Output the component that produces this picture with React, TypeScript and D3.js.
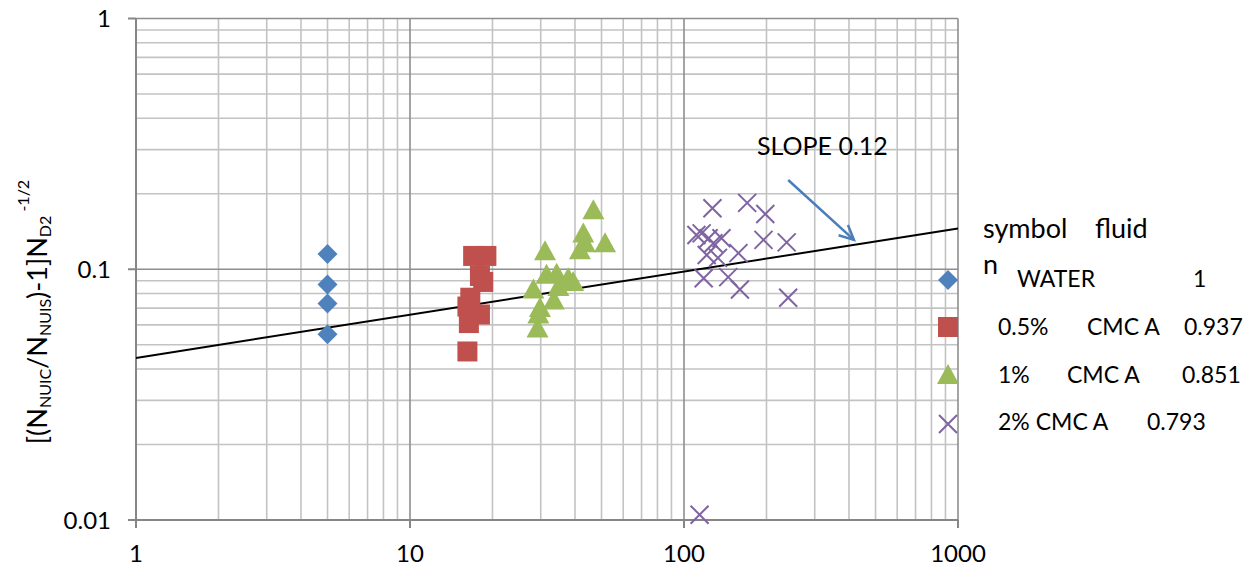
import React from 'react';
import * as d3 from 'd3';

const W = 1257;
const H = 571;
const margin = { top: 18.5, right: 299, bottom: 51, left: 136 };

// series
const waterX = [5, 5, 5, 5];
const waterY = [0.115, 0.087, 0.073, 0.055];

const cmc05X = [17, 19, 18, 18.5, 16.6, 16.2, 16.5, 18, 16.4, 16.2];
const cmc05Y = [0.113, 0.113, 0.094, 0.089, 0.077, 0.071, 0.068, 0.066, 0.061, 0.047];

const cmc1X = [46.7, 42.9, 51.5, 43.5, 41.7, 31.1, 31.5, 34.3, 37.8, 39.4, 34.8, 28.2, 33.5, 29.8, 29.4, 29.2];
const cmc1Y = [0.172, 0.139, 0.127, 0.127, 0.119, 0.118, 0.095, 0.096, 0.092, 0.089, 0.085, 0.083, 0.075, 0.07, 0.066, 0.058];

const cmc2X = [111, 116, 123, 127, 137, 170, 195, 198, 237, 121, 133, 158, 118, 145, 160, 240, 128, 114];
const cmc2Y = [0.137, 0.139, 0.133, 0.175, 0.133, 0.184, 0.131, 0.166, 0.128, 0.114, 0.111, 0.116, 0.092, 0.093, 0.083, 0.077, 0.127, 0.0105];

const fitX = [1, 1000];
const fitY = [0.0443, 0.1454];

const arrowX = [240, 417];
const arrowY = [0.227, 0.131];

const xTicks = [1, 10, 100, 1000];
const yTicks = [0.01, 0.1, 1];
const minorSteps = [2, 3, 4, 5, 6, 7, 8, 9];

const BLUE = '#4f81bd';
const RED = '#c0504d';
const GREEN = '#9bbb59';
const PURPLE = '#8064a2';
const FONT = "Lato, 'Open Sans', sans-serif";

type Kind = 'diamond' | 'square' | 'triangle' | 'x';

const Marker = ({ kind, x, y }: { kind: Kind; x: number; y: number }) => {
  if (kind === 'diamond') {
    return <path d={`M${x},${y - 10}L${x + 10},${y}L${x},${y + 10}L${x - 10},${y}Z`} fill={BLUE} />;
  }
  if (kind === 'square') {
    return <rect x={x - 10} y={y - 10} width={20} height={20} fill={RED} />;
  }
  if (kind === 'triangle') {
    return <path d={`M${x},${y - 11}L${x + 11},${y + 9}L${x - 11},${y + 9}Z`} fill={GREEN} />;
  }
  return (
    <path
      d={`M${x - 9},${y - 9}L${x + 9},${y + 9}M${x + 9},${y - 9}L${x - 9},${y + 9}`}
      stroke={PURPLE}
      strokeWidth={2}
    />
  );
};

export default function App() {
  const x = d3.scaleLog().domain([1, 1000]).range([margin.left, W - margin.right]);
  const y = d3.scaleLog().domain([0.01, 1]).range([H - margin.bottom, margin.top]);
  const [x0, x1] = x.range();
  const [y0, y1] = y.range();

  const xMinor = xTicks.slice(0, -1).flatMap((d) => minorSteps.map((k) => d * k));
  const yMinor = yTicks.slice(0, -1).flatMap((d) => minorSteps.map((k) => d * k));

  const line = d3
    .line<number>()
    .x((_, i) => x(fitX[i]))
    .y((d) => y(d));

  const series: { kind: Kind; xs: number[]; ys: number[] }[] = [
    { kind: 'diamond', xs: waterX, ys: waterY },
    { kind: 'square', xs: cmc05X, ys: cmc05Y },
    { kind: 'triangle', xs: cmc1X, ys: cmc1Y },
    { kind: 'x', xs: cmc2X, ys: cmc2Y },
  ];

  const ax0 = x(arrowX[0]);
  const ay0 = y(arrowY[0]);
  const ax1 = x(arrowX[1]);
  const ay1 = y(arrowY[1]);
  const ang = Math.atan2(ay1 - ay0, ax1 - ax0);
  const head = 16;
  const hx1 = ax1 - head * Math.cos(ang - 0.45);
  const hy1 = ay1 - head * Math.sin(ang - 0.45);
  const hx2 = ax1 - head * Math.cos(ang + 0.45);
  const hy2 = ay1 - head * Math.sin(ang + 0.45);

  return (
    <svg width={W} height={H} style={{ position: 'absolute', left: 0, top: 0, background: '#fff' }} fontFamily={FONT}>
      {/* minor grid */}
      {xMinor.map((d) => (
        <line key={'xm' + d} x1={x(d)} x2={x(d)} y1={y0} y2={y1} stroke="#c3c3c3" strokeWidth={1.6} />
      ))}
      {yMinor.map((d) => (
        <line key={'ym' + d} x1={x0} x2={x1} y1={y(d)} y2={y(d)} stroke="#c3c3c3" strokeWidth={1.6} />
      ))}
      {/* major grid */}
      {xTicks.slice(1).map((d) => (
        <line key={'xM' + d} x1={x(d)} x2={x(d)} y1={y0} y2={y1} stroke="#8e8e8e" strokeWidth={1.6} />
      ))}
      {yTicks.slice(1).map((d) => (
        <line key={'yM' + d} x1={x0} x2={x1} y1={y(d)} y2={y(d)} stroke="#8e8e8e" strokeWidth={1.6} />
      ))}
      {/* axes */}
      <line x1={x0} x2={x0} y1={y0 + 8} y2={y1} stroke="#868686" strokeWidth={2} />
      <line x1={x0 - 8} x2={x1} y1={y0} y2={y0} stroke="#868686" strokeWidth={2} />
      {yTicks.map((d) => (
        <line key={'yt' + d} x1={x0 - 8} x2={x0} y1={y(d)} y2={y(d)} stroke="#868686" strokeWidth={2} />
      ))}
      {xTicks.map((d) => (
        <line key={'xt' + d} x1={x(d)} x2={x(d)} y1={y0} y2={y0 + 8} stroke="#868686" strokeWidth={2} />
      ))}

      {/* tick labels */}
      {yTicks.map((d) => (
        <text key={'yl' + d} x={x0 - 25} y={y(d)} dy="0.36em" textAnchor="end" fontSize={24} fill="#000">
          {String(d)}
        </text>
      ))}
      {xTicks.map((d) => (
        <text key={'xl' + d} x={x(d)} y={y0 + 42} textAnchor="middle" fontSize={24} fill="#000">
          {String(d)}
        </text>
      ))}

      {/* y title */}
      <text transform={`translate(47,312) rotate(-90)`} textAnchor="middle" fontSize={27} fill="#000">
        <tspan>[(N</tspan>
        <tspan fontSize={16} dy={4}>NUIC</tspan>
        <tspan dy={-4}>/N</tspan>
        <tspan fontSize={16} dy={4}>NUIS</tspan>
        <tspan dy={-4}>)-1]N</tspan>
        <tspan fontSize={16} dy={4}>D2</tspan>
        <tspan fontSize={16} dy={-22}>{'\u00a0-1/2'}</tspan>
      </text>

      {/* fitted line */}
      <path d={line(fitY) || ''} fill="none" stroke="#000" strokeWidth={2} />

      {/* points */}
      {series.map((s) =>
        s.xs.map((v, i) => <Marker key={s.kind + i} kind={s.kind} x={x(v)} y={y(s.ys[i])} />)
      )}

      {/* slope annotation */}
      <line x1={ax0} y1={ay0} x2={ax1} y2={ay1} stroke="#4a7ebb" strokeWidth={2.5} />
      <path d={`M${hx1},${hy1}L${ax1},${ay1}L${hx2},${hy2}`} fill="none" stroke="#4a7ebb" strokeWidth={2.5} />
      <text x={757} y={155} fontSize={25} fill="#000">SLOPE 0.12</text>

      {/* legend */}
      <g fontSize={23} fill="#000">
        <text x={983} y={238} fontSize={27}>symbol</text>
        <text x={1095} y={238} fontSize={27}>fluid</text>
        <text x={983} y={274} fontSize={27}>n</text>
        <Marker kind="diamond" x={948} y={280} />
        <text x={1017} y={287}>WATER</text>
        <text x={1193} y={287}>1</text>
        <Marker kind="square" x={948} y={327} />
        <text x={998} y={335}>0.5%</text>
        <text x={1087} y={335}>CMC A</text>
        <text x={1184} y={335}>0.937</text>
        <Marker kind="triangle" x={948} y={375} />
        <text x={998} y={383}>1%</text>
        <text x={1067} y={383}>CMC A</text>
        <text x={1182} y={383}>0.851</text>
        <Marker kind="x" x={948} y={424} />
        <text x={998} y={430}>2% CMC A</text>
        <text x={1147} y={430}>0.793</text>
      </g>
    </svg>
  );
}
